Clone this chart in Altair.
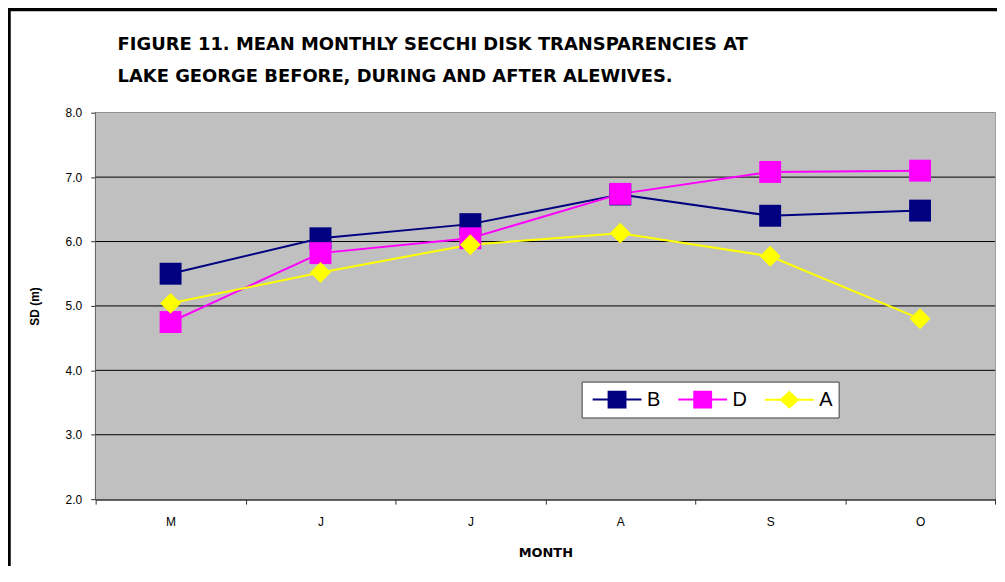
import json
import altair as alt
import pandas as pd

# ---- data ----
months = ["May", "Jun", "Jul", "Aug", "Sep", "Oct"]
month_labels = ["M", "J", "J", "A", "S", "O"]
series_names = ["B", "D", "A"]
b_vals = [5.50, 6.05, 6.27, 6.73, 6.40, 6.48]
d_vals = [4.75, 5.82, 6.05, 6.74, 7.08, 7.10]
a_vals = [5.04, 5.52, 5.95, 6.13, 5.77, 4.80]
series_colors = ["#000080", "#FF00FF", "#FFFF00"]
y_ticks = [2, 3, 4, 5, 6, 7, 8]
grid_vals = [3, 4, 5, 6, 7]
title_lines = [
    "FIGURE 11.  MEAN MONTHLY SECCHI DISK TRANSPARENCIES AT",
    "LAKE GEORGE BEFORE, DURING AND AFTER ALEWIVES.",
]

rows = []
for name, vals in zip(series_names, [b_vals, d_vals, a_vals]):
    for i, (m, v) in enumerate(zip(months, vals)):
        rows.append({"series": name, "month": m, "idx": i, "sd": v})
df = pd.DataFrame(rows)
grid_df = pd.DataFrame({"sd": grid_vals})
one = pd.DataFrame({"k": [0]})

label_map = json.dumps(dict(zip(months, month_labels)))

PW, PH = 903, 388

xscale = alt.Scale(type="band", domain=months, paddingInner=0, paddingOuter=0)
yscale = alt.Scale(domain=[2, 8], nice=False, zero=False)

x_axis = alt.Axis(
    tickBand="extent",
    labelExpr=f"{label_map}[datum.value]",
    labelAngle=0,
    labelFont="Liberation Sans",
    labelFontSize=12,
    labelColor="black",
    labelPadding=12,
    domainColor="#303030",
    domainWidth=2,
    tickColor="#303030",
    tickSize=5,
    grid=False,
    title="MONTH",
    titleFont="DejaVu Sans",
    titleFontSize=13,
    titleFontWeight="bold",
    titleColor="black",
    titlePadding=20,
)
y_axis = alt.Axis(
    values=y_ticks,
    format=".1f",
    grid=False,
    labelFont="Liberation Sans",
    labelFontSize=12,
    labelColor="black",
    labelPadding=9,
    domainColor="#303030",
    domainWidth=2,
    tickColor="#303030",
    tickSize=5,
    title="SD (m)",
    titleFont="Liberation Sans",
    titleFontSize=12,
    titleFontWeight="bold",
    titleColor="black",
    titleX=-61,
    titleY=PH / 2,
    titleAlign="center",
    titleBaseline="middle",
)
X = alt.X("month:N", scale=xscale, sort=months, axis=x_axis)
Y = alt.Y("sd:Q", scale=yscale, axis=y_axis)
color_scale = alt.Scale(domain=series_names, range=series_colors)

# legend glyphs: line through a marker (unit radius = 11 px)
legend_paths = [
    "M-2.23,0L2.23,0M-0.77,-0.72L0.77,-0.72L0.77,0.72L-0.77,0.72Z",
    "M-2.23,0L2.23,0M-0.77,-0.72L0.77,-0.72L0.77,0.72L-0.77,0.72Z",
    "M-2.23,0L2.23,0M-0.77,0L0,-0.7L0.77,0L0,0.7Z",
]
leg = alt.Legend(
    orient="none",
    legendX=488,
    legendY=270,
    direction="horizontal",
    columns=3,
    title=None,
    fillColor="white",
    strokeColor="#404040",
    padding=6,
    labelFont="Liberation Sans",
    labelFontSize=20,
    labelColor="black",
    labelOffset=18,
    symbolOffset=17.5,
    columnPadding=13,
    symbolSize=484,
    symbolStrokeWidth=2,
)
C = alt.Color("series:N", scale=color_scale, legend=leg)

bg = alt.Chart(one).mark_rect(color="#C0C0C0").encode(
    x=alt.value(0), x2=alt.value(PW), y=alt.value(0), y2=alt.value(PH)
)
grid = alt.Chart(grid_df).mark_rule(color="black", strokeWidth=1).encode(y=Y)
lines = alt.Chart(df).mark_line(strokeWidth=2).encode(
    x=X, y=Y, color=C, order=alt.Order("idx:Q")
)
squares = alt.Chart(df).transform_filter("datum.series != 'A'").mark_point(
    shape="square", filled=True, size=484, opacity=1
).encode(x=X, y=Y, color=C)
diamonds = alt.Chart(df).transform_filter("datum.series == 'A'").mark_point(
    shape="diamond", filled=True, size=441, opacity=1
).encode(x=X, y=Y, color=C)
legend_layer = alt.Chart(df).transform_filter("false").mark_point(
    filled=True, size=484, strokeWidth=2, opacity=1
).encode(
    color=C,
    shape=alt.Shape("series:N", scale=alt.Scale(domain=series_names, range=legend_paths), legend=leg),
)
frame_left = alt.Chart(one).mark_rule(color="black", strokeWidth=3.5).encode(
    x=alt.value(-87), y=alt.value(-104), y2=alt.value(PH + 100)
)
frame_top = alt.Chart(one).mark_rule(color="black", strokeWidth=3.5).encode(
    x=alt.value(-88.75), x2=alt.value(PW + 20), y=alt.value(-103.5)
)

chart = (
    alt.layer(bg, grid, lines, squares, diamonds, legend_layer, frame_left, frame_top)
    .properties(
        width=PW,
        height=PH,
        title=alt.TitleParams(
            text=title_lines,
            anchor="start",
            frame="group",
            dx=22,
            dy=79,
            font="DejaVu Sans",
            fontSize=18,
            fontWeight="bold",
            color="black",
            offset=0,
            lineHeight=32,
        ),
        autosize=alt.AutoSizeParams(type="none"),
        padding={"left": 88, "top": 104, "right": 2, "bottom": 66},
    )
    .configure(background="white")
    .configure_view(fill="#C0C0C0", stroke="#808080", strokeWidth=1.5)
)

chart.save("out.html", embed_options={"renderer": "svg", "actions": False})
